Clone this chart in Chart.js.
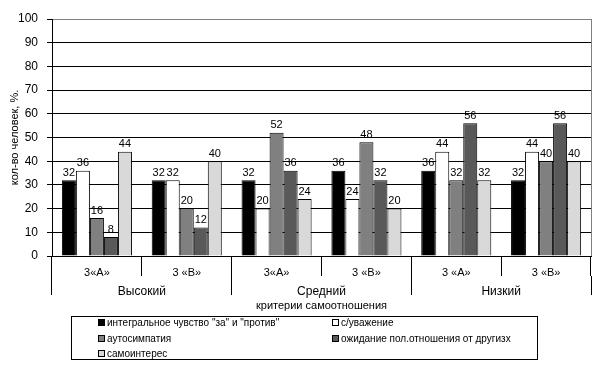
<!DOCTYPE html>
<html>
<head>
<meta charset="utf-8">
<script src="https://cdn.jsdelivr.net/npm/chart.js@4/dist/chart.umd.min.js"></script>
<style>
  html, body { margin: 0; padding: 0; background: #fff; }
  #wrap { width: 614px; height: 366px; position: relative; }
</style>
</head>
<body>
<div id="wrap"><canvas id="chart" width="614" height="366"></canvas></div>
<script>
// подписи категорий (классы) и уровней
const classes = ['3«А»', '3 «В»', '3«А»', '3 «В»', '3 «А»', '3 «В»'];
const levels = ['Высокий', 'Средний', 'Низкий'];

// значения по критериям, %
const integral = [32, 32, 32, 36, 36, 32];
const respect = [36, 32, 20, 24, 44, 44];
const sympathy = [16, 20, 52, 48, 32, 40];
const expectation = [8, 12, 36, 32, 56, 56];
const interest = [44, 40, 24, 20, 32, 40];

const seriesNames = [
  'интегральное чувство "за" и "против"',
  'с/уважение',
  'аутосимпатия',
  'ожидание пол.отношения от другизх',
  'самоинтерес'
];
const yTicks = [0, 10, 20, 30, 40, 50, 60, 70, 80, 90, 100];

const FONT = 'Arial, "Liberation Sans", sans-serif';
const colors = ['#000000', '#ffffff', '#808080', '#595959', '#d9d9d9'];
const values = [integral, respect, sympathy, expectation, interest];

const datasets = values.map((v, i) => ({
  label: seriesNames[i],
  data: v,
  backgroundColor: colors[i],
  borderColor: '#000',
  borderWidth: 1,
  xAxisID: 'x',
  categoryPercentage: 0.78,
  barPercentage: 1
}));

// подписи значений над столбиками
const valueLabels = {
  id: 'valueLabels',
  afterDatasetsDraw(chart) {
    const ctx = chart.ctx;
    ctx.save();
    ctx.font = '11px ' + FONT;
    ctx.fillStyle = '#000';
    ctx.textAlign = 'center';
    ctx.textBaseline = 'bottom';
    chart.data.datasets.forEach((ds, i) => {
      chart.getDatasetMeta(i).data.forEach((bar, j) => {
        ctx.fillText(String(ds.data[j]), bar.x, bar.y - 2);
      });
    });
    ctx.restore();
  }
};

// рамка области и легенда в рамке
const frameAndLegend = {
  id: 'frameAndLegend',
  afterDraw(chart) {
    const ctx = chart.ctx;
    const a = chart.chartArea;
    ctx.save();
    ctx.strokeStyle = '#808080';
    ctx.lineWidth = 1;
    ctx.beginPath();
    ctx.moveTo(Math.round(a.right) + 0.5, a.top);
    ctx.lineTo(Math.round(a.right) + 0.5, a.bottom);
    ctx.stroke();

    // легенда
    const lx = 71, ly = 316, lw = 466, lh = 43;
    ctx.strokeStyle = '#000';
    ctx.strokeRect(lx + 0.5, ly + 0.5, lw, lh);
    ctx.font = '10px ' + FONT;
    ctx.textBaseline = 'middle';
    ctx.textAlign = 'left';
    const cols = [98, 332];
    const rows = [323, 339, 354];
    chart.data.datasets.forEach((ds, i) => {
      const x = cols[i % 2];
      const y = rows[Math.floor(i / 2)];
      ctx.fillStyle = ds.backgroundColor;
      ctx.fillRect(x, y - 4, 7, 7);
      ctx.strokeStyle = '#000';
      ctx.strokeRect(x + 0.5, y - 3.5, 6, 6);
      ctx.fillStyle = '#000';
      ctx.fillText(ds.label, x + 9, y);
    });
    ctx.restore();
  }
};

new Chart(document.getElementById('chart'), {
  type: 'bar',
  data: { labels: classes, datasets: datasets },
  options: {
    responsive: false,
    animation: false,
    layout: { padding: { left: 0, right: 23, top: 19, bottom: 50 } },
    plugins: {
      legend: { display: false },
      tooltip: { enabled: false }
    },
    scales: {
      y: {
        min: 0,
        max: 100,
        afterFit: s => { s.width = 52; },
        afterBuildTicks: s => { s.ticks = yTicks.map(v => ({ value: v })); },
        ticks: { stepSize: 10, color: '#000', padding: 9, font: { family: FONT, size: 12 } },
        grid: {
          color: c => (c.tick && c.tick.value === 100 ? '#808080' : '#000'),
          tickColor: '#000',
          tickLength: 5
        },
        border: { color: '#000' },
        title: {
          display: true,
          text: 'кол-во человек, %.',
          color: '#000',
          font: { family: FONT, size: 11 },
          padding: { top: 8, bottom: 0 }
        }
      },
      x: {
        position: 'bottom',
        afterFit: s => { s.height = 20; },
        ticks: {
          color: '#000',
          autoSkip: false,
          maxRotation: 0,
          padding: -10,
          font: { family: FONT, size: 11 }
        },
        grid: {
          offset: true,
          drawOnChartArea: false,
          color: '#000',
          tickLength: 20
        },
        border: { color: '#000' }
      },
      x2: {
        type: 'category',
        labels: levels,
        position: 'bottom',
        afterFit: s => { s.height = 40; },
        ticks: {
          color: '#000',
          autoSkip: false,
          maxRotation: 0,
          padding: -11,
          font: { family: FONT, size: 12 }
        },
        grid: {
          offset: true,
          drawOnChartArea: false,
          color: '#000',
          tickLength: 19
        },
        border: { display: false },
        title: {
          display: true,
          text: 'критерии самоотношения',
          color: '#000',
          font: { family: FONT, size: 11 },
          padding: { top: 0, bottom: 3 }
        }
      }
    }
  },
  plugins: [valueLabels, frameAndLegend]
});
</script>
</body>
</html>
